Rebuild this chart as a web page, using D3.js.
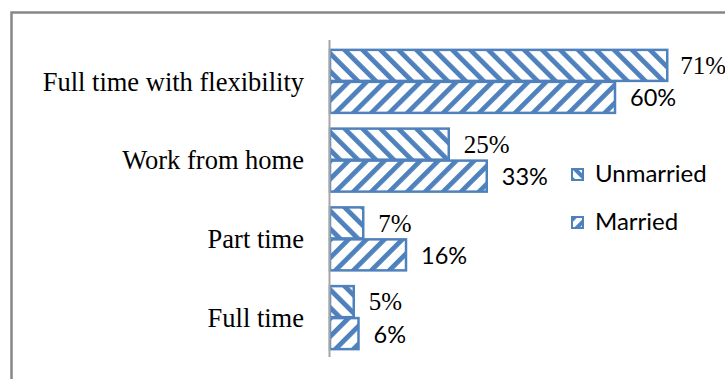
<!DOCTYPE html>
<html>
<head>
<meta charset="utf-8">
<script src="https://cdn.jsdelivr.net/npm/d3@7"></script>
<style>
  html, body { margin: 0; padding: 0; background: #fff; }
  svg { display: block; }
</style>
</head>
<body>
<svg id="chart" width="725" height="379"></svg>
<script>
// Work arrangement preferences by marital status (share of respondents, %)
const categories = ["Full time with flexibility", "Work from home", "Part time", "Full time"];
const seriesNames = ["Unmarried", "Married"];
const unmarried = [71, 25, 7, 5];
const married = [60, 33, 16, 6];

const W = 725, H = 379;
const blue = "#4F81BD";
const svg = d3.select("#chart");

svg.append("rect").attr("width", W).attr("height", H).attr("fill", "#fff");

// hatch fills: "\" for Unmarried, "/" for Married
const defs = svg.append("defs");
function hatch(id, angle, size, thick) {
  const p = defs.append("pattern")
    .attr("id", id)
    .attr("patternUnits", "userSpaceOnUse")
    .attr("width", size).attr("height", size)
    .attr("patternTransform", `rotate(${angle})`);
  p.append("rect").attr("width", size).attr("height", size).attr("fill", "#fff");
  p.append("rect").attr("x", 0).attr("y", 0).attr("width", thick).attr("height", size).attr("fill", blue);
}
hatch("hatch-unmarried", -45, 12.7, 4.8);
hatch("hatch-married", 45, 12.7, 4.8);
hatch("hatch-unmarried-small", -45, 9, 4);
hatch("hatch-married-small", 45, 9, 4);
const fills = { Unmarried: "url(#hatch-unmarried)", Married: "url(#hatch-married)" };
const smallFills = { Unmarried: "url(#hatch-unmarried-small)", Married: "url(#hatch-married-small)" };

// chart frame
svg.append("rect")
  .attr("x", 11.5).attr("y", 12.5)
  .attr("width", W + 20).attr("height", H + 20)
  .attr("fill", "none").attr("stroke", "#878787").attr("stroke-width", 2.5);

const x0 = 330;
const x = d3.scaleLinear().domain([0, 80]).range([x0, x0 + 380]);
const y = d3.scaleBand().domain(categories).range([42, 357]).paddingInner(0.2).paddingOuter(0.1);
const y1 = d3.scaleBand().domain(seriesNames).range([0, y.bandwidth()]).paddingInner(0.03);

const rows = categories.map((c, i) => ({
  category: c,
  values: [
    { series: "Unmarried", value: unmarried[i] },
    { series: "Married", value: married[i] }
  ]
}));

const groups = svg.append("g").selectAll("g")
  .data(rows).join("g")
  .attr("transform", d => `translate(0,${y(d.category)})`);

groups.selectAll("rect")
  .data(d => d.values).join("rect")
  .attr("x", x(0))
  .attr("y", d => y1(d.series))
  .attr("width", d => x(d.value) - x(0))
  .attr("height", y1.bandwidth())
  .attr("fill", d => fills[d.series])
  .attr("stroke", blue)
  .attr("stroke-width", 2.5);

// value labels
const labelFont = { Unmarried: "'Liberation Serif', 'Times New Roman', serif", Married: "Lato, 'Open Sans', sans-serif" };
const labelSize = { Unmarried: 25, Married: 23.5 };
groups.selectAll("text")
  .data(d => d.values).join("text")
  .attr("y", d => y1(d.series) + y1.bandwidth() / 2 + 3)
  .attr("dominant-baseline", "middle")
  .attr("font-family", d => labelFont[d.series])
  .attr("font-size", d => labelSize[d.series])
  .attr("fill", "#000")
  .text(d => d.value + "%")
  .attr("x", function (d) {
    const w = this.getComputedTextLength();
    return Math.min(x(d.value) + 15, W - w + 1);
  });

// category axis
const yAxis = d3.axisLeft(y).tickSize(0).tickPadding(26);
const ga = svg.append("g").attr("transform", `translate(${x0},0)`).call(yAxis);
ga.select(".domain").remove();
ga.selectAll("text")
  .attr("font-family", "'Liberation Serif', 'Times New Roman', serif")
  .attr("font-size", 26.5)
  .attr("fill", "#000")
  .attr("dy", "0.35em");
svg.append("line")
  .attr("x1", x0 - 0.5).attr("x2", x0 - 0.5)
  .attr("y1", 40).attr("y2", 357)
  .attr("stroke", "#A6A6A6").attr("stroke-width", 2);

// legend
const legend = svg.append("g").selectAll("g")
  .data(seriesNames).join("g")
  .attr("transform", (d, i) => `translate(572,${169 + i * 48})`);
legend.append("rect")
  .attr("width", 11).attr("height", 11)
  .attr("fill", d => smallFills[d])
  .attr("stroke", blue).attr("stroke-width", 2);
legend.append("text")
  .attr("x", 23).attr("y", 13)
  .attr("font-family", "Lato, 'Open Sans', sans-serif")
  .attr("font-size", 24)
  .attr("fill", "#000")
  .text(d => d);
</script>
</body>
</html>
